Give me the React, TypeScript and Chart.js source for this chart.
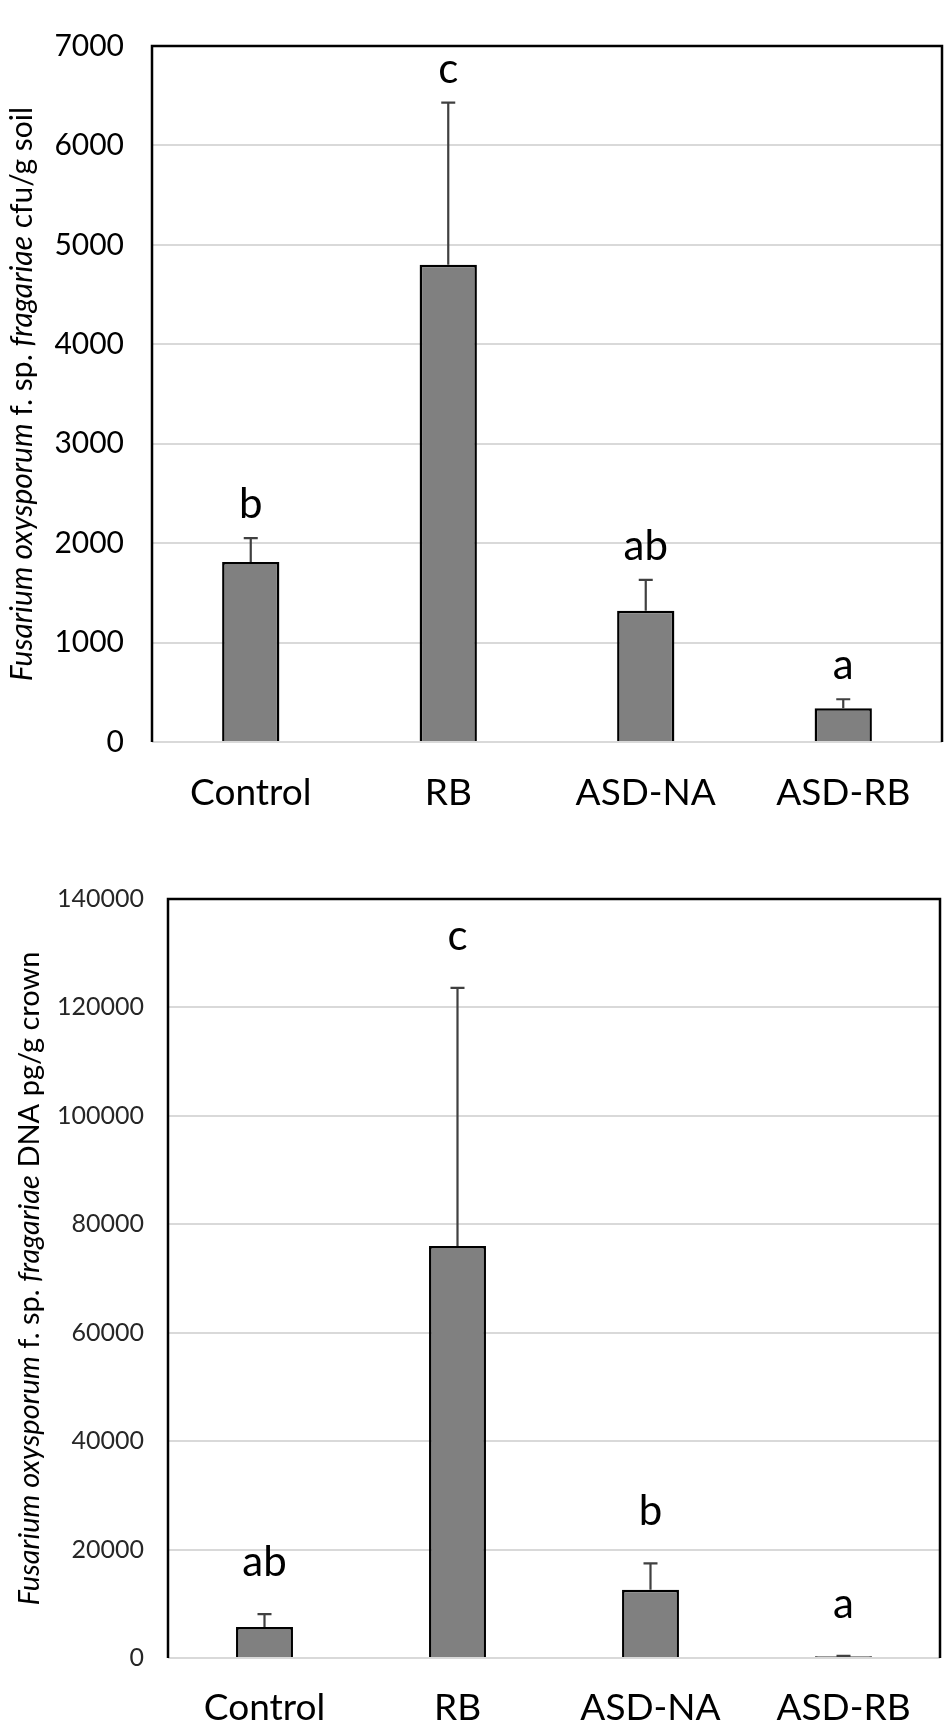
import React, { useEffect, useRef } from "react";
import { Chart, registerables } from "chart.js";

Chart.register(...registerables);

const FONT = "Lato, 'Open Sans', sans-serif";

const categories = ["Control", "RB", "ASD-NA", "ASD-RB"];

// upper panel: cfu / g soil
const soilMeans = [1810, 4800, 1320, 340];
const soilErrors = [240, 1630, 310, 90];
const soilLetters = ["b", "c", "ab", "a"];
const soilMax = 7000;
const soilStep = 1000;

// lower panel: DNA pg / g crown
const crownMeans = [5700, 76000, 12600, 300];
const crownErrors = [2400, 47600, 4850, 100];
const crownLetters = ["ab", "c", "b", "a"];
const crownMax = 140000;
const crownStep = 20000;

type Seg = { text: string; italic: boolean };

const soilTitle: Seg[] = [
  { text: "Fusarium oxysporum", italic: true },
  { text: " f. sp. ", italic: false },
  { text: "fragariae", italic: true },
  { text: " cfu/g soil", italic: false },
];
const crownTitle: Seg[] = [
  { text: "Fusarium oxysporum", italic: true },
  { text: " f. sp. ", italic: false },
  { text: "fragariae", italic: true },
  { text: " DNA pg/g crown", italic: false },
];

type PanelProps = {
  means: number[];
  errors: number[];
  letters: string[];
  max: number;
  step: number;
  title: Seg[];
  height: number;
  area: { left: number; top: number; bottom: number; right: number };
  tickSize: number;
  tickPad: number;
  tickColor: string;
  titleX: number;
  titleSize: number;
  letterGap: number;
  barPct: number;
  xPad: number;
};

function Panel(p: PanelProps) {
  const ref = useRef<HTMLCanvasElement>(null);

  useEffect(() => {
    const W = 950;
    const xAxisH = p.height - p.area.bottom;

    const extras = {
      id: "extras",
      afterDatasetsDraw(chart: any) {
        const ctx = chart.ctx;
        const y = chart.scales.y;
        const meta = chart.getDatasetMeta(0);
        const ca = chart.chartArea;

        // error bars (upper only)
        ctx.save();
        ctx.strokeStyle = "#404040";
        ctx.lineWidth = 2.2;
        meta.data.forEach((bar: any, i: number) => {
          const y0 = y.getPixelForValue(p.means[i]);
          const y1 = y.getPixelForValue(p.means[i] + p.errors[i]);
          ctx.beginPath();
          ctx.moveTo(bar.x, y0);
          ctx.lineTo(bar.x, y1);
          ctx.moveTo(bar.x - 7, y1);
          ctx.lineTo(bar.x + 7, y1);
          ctx.stroke();
        });

        // significance letters
        ctx.fillStyle = "#000";
        ctx.font = `42px ${FONT}`;
        ctx.textAlign = "center";
        ctx.textBaseline = "alphabetic";
        meta.data.forEach((bar: any, i: number) => {
          const y1 = y.getPixelForValue(p.means[i] + p.errors[i]);
          ctx.fillText(p.letters[i], bar.x, y1 - p.letterGap);
        });

        // plot frame: left, top, right
        ctx.strokeStyle = "#000";
        ctx.lineWidth = 2.5;
        ctx.beginPath();
        ctx.moveTo(ca.left, ca.bottom);
        ctx.lineTo(ca.left, ca.top);
        ctx.lineTo(ca.right, ca.top);
        ctx.lineTo(ca.right, ca.bottom);
        ctx.stroke();

        // rotated y title with mixed italics
        const fontFor = (s: Seg) =>
          `${s.italic ? "italic " : ""}${p.titleSize}px ${FONT}`;
        let total = 0;
        const widths = p.title.map((s) => {
          ctx.font = fontFor(s);
          const w = ctx.measureText(s.text).width;
          total += w;
          return w;
        });
        ctx.translate(p.titleX, (ca.top + ca.bottom) / 2);
        ctx.rotate(-Math.PI / 2);
        ctx.textAlign = "left";
        ctx.textBaseline = "middle";
        let x = -total / 2;
        p.title.forEach((s, i) => {
          ctx.font = fontFor(s);
          ctx.fillText(s.text, x, 0);
          x += widths[i];
        });
        ctx.restore();
      },
    };

    const chart = new Chart(ref.current!, {
      type: "bar",
      data: {
        labels: categories,
        datasets: [
          {
            data: p.means,
            backgroundColor: "#808080",
            borderColor: "#000",
            borderWidth: 2.5,
            barPercentage: p.barPct,
            categoryPercentage: 1,
          },
        ],
      },
      options: {
        animation: false,
        responsive: false,
        maintainAspectRatio: false,
        layout: {
          padding: { top: p.area.top, right: W - p.area.right, left: 0, bottom: 0 },
        },
        plugins: {
          legend: { display: false },
          tooltip: { enabled: false },
        },
        scales: {
          x: {
            grid: { display: false, drawTicks: false },
            border: { display: false },
            ticks: {
              color: "#000",
              font: { family: FONT, size: 37 },
              padding: p.xPad,
              maxRotation: 0,
            },
            afterFit: (s: any) => {
              s.height = xAxisH;
            },
          },
          y: {
            min: 0,
            max: p.max,
            ticks: {
              stepSize: p.step,
              color: p.tickColor,
              font: { family: FONT, size: p.tickSize },
              padding: p.tickPad,
              callback: (v: any) => String(v),
            },
            grid: { color: "#d9d9d9", lineWidth: 2, drawTicks: false },
            border: { display: false },
            afterFit: (s: any) => {
              s.width = p.area.left;
            },
          },
        },
      },
      plugins: [extras],
    });

    return () => {
      chart.destroy();
    };
  }, []);

  return (
    <canvas
      ref={ref}
      width={950}
      height={p.height}
      style={{ display: "block", width: 950, height: p.height }}
    />
  );
}

export default function App() {
  useEffect(() => {
    document.body.style.margin = "0";
  }, []);

  return (
    <div style={{ width: 950, background: "#fff" }}>
      <Panel
        means={soilMeans}
        errors={soilErrors}
        letters={soilLetters}
        max={soilMax}
        step={soilStep}
        title={soilTitle}
        height={860}
        area={{ left: 152, top: 22, bottom: 742, right: 942 }}
        tickSize={30}
        tickPad={28}
        tickColor="#000"
        titleX={22}
        titleSize={30}
        letterGap={20}
        barPct={0.29}
        xPad={29}
      />
      <Panel
        means={crownMeans}
        errors={crownErrors}
        letters={crownLetters}
        max={crownMax}
        step={crownStep}
        title={crownTitle}
        height={867}
        area={{ left: 168, top: 25, bottom: 798, right: 940 }}
        tickSize={25}
        tickPad={24}
        tickColor="#262626"
        titleX={30}
        titleSize={29}
        letterGap={38}
        barPct={0.295}
        xPad={28}
      />
    </div>
  );
}
